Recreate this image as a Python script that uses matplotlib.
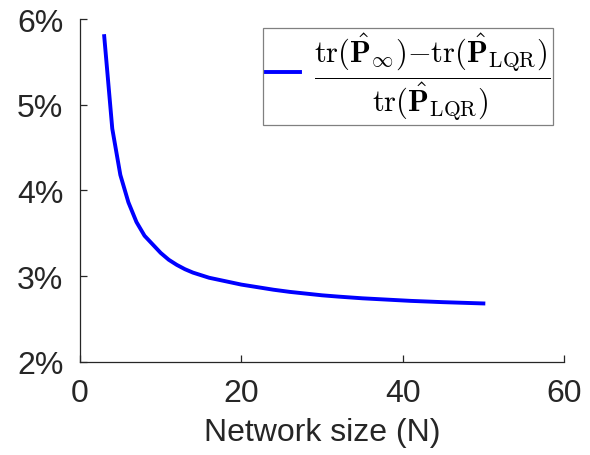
import matplotlib
matplotlib.use("Agg")
import matplotlib.pyplot as plt
from matplotlib.ticker import FuncFormatter

# values (network size vs relative gap in %)
network_size = [3, 4, 5, 6, 7, 8, 9, 10, 11, 12, 13, 14, 15, 16, 17, 18, 19, 20,
                22, 24, 26, 28, 30, 32, 35, 38, 41, 45, 50]
rel_gap_pct = [5.80, 4.72, 4.18, 3.86, 3.63, 3.47, 3.37, 3.27, 3.19, 3.13,
               3.08, 3.04, 3.01, 2.98, 2.96, 2.94, 2.92, 2.90,
               2.87, 2.84, 2.815, 2.795, 2.775, 2.76, 2.74, 2.725, 2.71, 2.695, 2.68]

x_ticks = [0, 20, 40, 60]
y_ticks = [2, 3, 4, 5, 6]

LABEL = (r"$\dfrac{\mathrm{tr}(\hat{\mathbf{P}}_\infty){-}\mathrm{tr}(\hat{\mathbf{P}}_{\mathrm{LQR}})}"
         r"{\mathrm{tr}(\hat{\mathbf{P}}_{\mathrm{LQR}})}$")

AX_COLOR = "#262626"

plt.rcParams["font.family"] = ["Liberation Sans", "DejaVu Sans"]
plt.rcParams["mathtext.fontset"] = "cm"

fig = plt.figure(figsize=(5.9, 4.56), dpi=100)
ax = fig.add_axes([0.1356, 0.2046, 0.8204, 0.7515])

ax.plot(network_size, rel_gap_pct, color="#0000ff", linewidth=2.8, label=LABEL)

ax.set_xlim(0, 60)
ax.set_ylim(2, 6)
ax.set_xticks(x_ticks)
ax.set_yticks(y_ticks)
ax.yaxis.set_major_formatter(FuncFormatter(lambda v, p: f"{v:.0f}%"))

for side in ["top", "right"]:
    ax.spines[side].set_visible(False)
for side in ["left", "bottom"]:
    ax.spines[side].set_color(AX_COLOR)
    ax.spines[side].set_linewidth(0.9)

ax.tick_params(direction="in", length=5, width=0.9, colors=AX_COLOR,
               labelsize=23, labelcolor=AX_COLOR)
ax.tick_params(axis="x", pad=12)
ax.tick_params(axis="y", pad=12)

ax.set_xlabel("Network size (N)", fontsize=23, color=AX_COLOR, labelpad=6)

leg = ax.legend(loc="upper right", bbox_to_anchor=(0.977, 0.974),
                borderaxespad=0, fontsize=22, fancybox=False,
                handlelength=1.1, handletextpad=0.45, borderpad=0.1,
                framealpha=1)
leg.get_frame().set_edgecolor("#808080")
leg.get_frame().set_linewidth(0.9)

fig.savefig("out.png", dpi=100)
